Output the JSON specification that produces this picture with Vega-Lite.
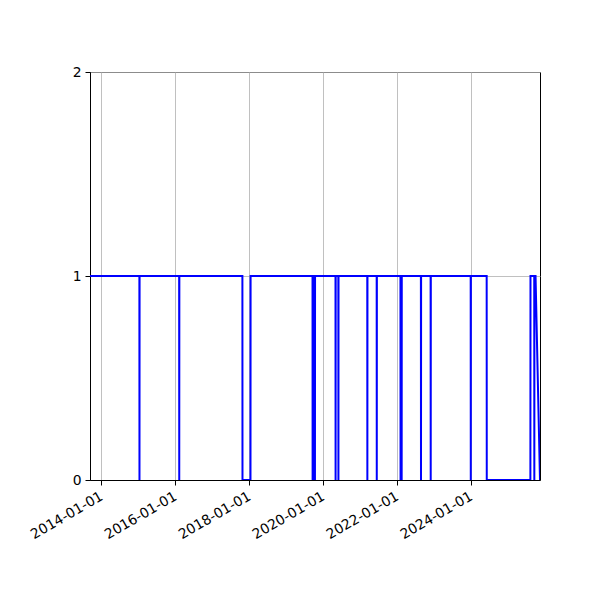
{
  "$schema": "https://vega.github.io/schema/vega-lite/v6.json",
  "autosize": "none",
  "width": 450,
  "height": 408,
  "padding": {"left": 90, "top": 72, "right": 60, "bottom": 120},
  "background": "white",
  "data": {
    "values": [
      {"date": "2013-09-14", "value": 1},
      {"date": "2015-01-15", "value": 1},
      {"date": "2015-01-16", "value": 0},
      {"date": "2015-01-17", "value": 1},
      {"date": "2016-02-12", "value": 1},
      {"date": "2016-02-13", "value": 0},
      {"date": "2016-02-14", "value": 1},
      {"date": "2017-10-29", "value": 1},
      {"date": "2017-10-30", "value": 0},
      {"date": "2018-01-17", "value": 0},
      {"date": "2018-01-18", "value": 1},
      {"date": "2019-09-22", "value": 1},
      {"date": "2019-09-23", "value": 0},
      {"date": "2019-09-24", "value": 1},
      {"date": "2019-09-28", "value": 1},
      {"date": "2019-09-29", "value": 0},
      {"date": "2019-09-30", "value": 1},
      {"date": "2019-10-04", "value": 1},
      {"date": "2019-10-05", "value": 0},
      {"date": "2019-10-06", "value": 1},
      {"date": "2019-10-10", "value": 1},
      {"date": "2019-10-11", "value": 0},
      {"date": "2019-10-12", "value": 1},
      {"date": "2019-10-15", "value": 1},
      {"date": "2019-10-16", "value": 0},
      {"date": "2019-10-17", "value": 1},
      {"date": "2020-05-06", "value": 1},
      {"date": "2020-05-07", "value": 0},
      {"date": "2020-05-08", "value": 1},
      {"date": "2020-06-03", "value": 1},
      {"date": "2020-06-04", "value": 0},
      {"date": "2020-06-05", "value": 1},
      {"date": "2021-03-16", "value": 1},
      {"date": "2021-03-17", "value": 0},
      {"date": "2021-03-18", "value": 1},
      {"date": "2021-06-17", "value": 1},
      {"date": "2021-06-18", "value": 0},
      {"date": "2021-06-19", "value": 1},
      {"date": "2022-02-07", "value": 1},
      {"date": "2022-02-08", "value": 0},
      {"date": "2022-02-09", "value": 1},
      {"date": "2022-02-18", "value": 1},
      {"date": "2022-02-19", "value": 0},
      {"date": "2022-02-20", "value": 1},
      {"date": "2022-08-28", "value": 1},
      {"date": "2022-08-29", "value": 0},
      {"date": "2022-08-30", "value": 1},
      {"date": "2022-12-02", "value": 1},
      {"date": "2022-12-03", "value": 0},
      {"date": "2022-12-04", "value": 1},
      {"date": "2024-01-02", "value": 1},
      {"date": "2024-01-03", "value": 0},
      {"date": "2024-01-04", "value": 1},
      {"date": "2024-06-08", "value": 1},
      {"date": "2024-06-09", "value": 0},
      {"date": "2025-08-14", "value": 0},
      {"date": "2025-08-15", "value": 1},
      {"date": "2025-09-21", "value": 1},
      {"date": "2025-09-22", "value": 0},
      {"date": "2025-09-23", "value": 1},
      {"date": "2025-10-04", "value": 1},
      {"date": "2025-11-17", "value": 0}
    ]
  },
  "mark": {"type": "line", "color": "#0000ff", "strokeWidth": 2, "clip": true},
  "encoding": {
    "x": {
      "field": "date",
      "type": "temporal",
      "scale": {"type": "utc", "nice": false},
      "axis": {
        "title": null,
        "values": [
          {"year": 2014, "month": 1, "date": 1, "utc": true},
          {"year": 2016, "month": 1, "date": 1, "utc": true},
          {"year": 2018, "month": 1, "date": 1, "utc": true},
          {"year": 2020, "month": 1, "date": 1, "utc": true},
          {"year": 2022, "month": 1, "date": 1, "utc": true},
          {"year": 2024, "month": 1, "date": 1, "utc": true}
        ],
        "labelExpr": "utcFormat(datum.value, '%Y-%m-%d')",
        "labelAngle": -30,
        "labelAlign": "right",
        "labelBaseline": "top",
        "labelOffset": -3,
        "grid": true
      }
    },
    "y": {
      "field": "value",
      "type": "quantitative",
      "scale": {"domain": [0, 2], "nice": false},
      "axis": {"title": null, "values": [0, 1, 2], "labelExpr": "format(datum.value, 'd')", "grid": true}
    }
  },
  "config": {
    "font": "DejaVu Sans",
    "view": {"stroke": "black", "strokeWidth": 1},
    "axis": {
      "domainColor": "black",
      "domainWidth": 1,
      "tickColor": "black",
      "tickWidth": 1,
      "tickSize": 5,
      "labelFont": "DejaVu Sans",
      "labelFontSize": 13.9,
      "labelColor": "black",
      "labelPadding": 4,
      "labelFlush": false,
      "labelOverlap": false,
      "labelBound": false,
      "gridColor": "#b0b0b0",
      "gridWidth": 0.8,
      "gridOpacity": 1
    }
  }
}
